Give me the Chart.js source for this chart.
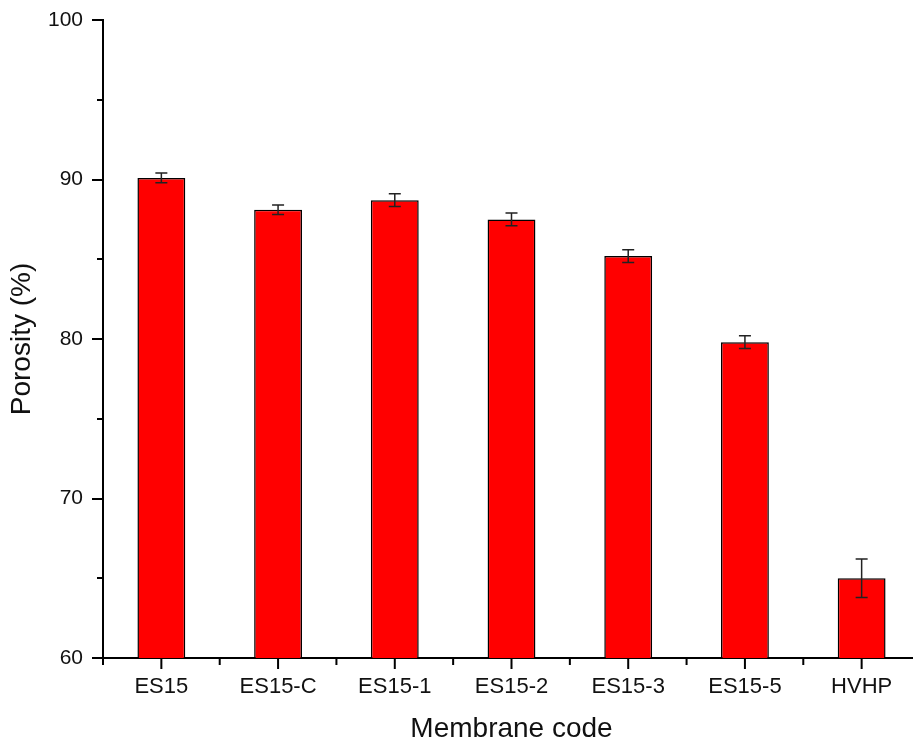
<!DOCTYPE html>
<html>
<head>
<meta charset="utf-8">
<script src="https://cdn.jsdelivr.net/npm/chart.js@4.4.1/dist/chart.umd.min.js"></script>
<style>
  html, body { margin: 0; padding: 0; background: #fff; overflow: hidden; }
  #wrap { width: 920px; height: 743px; }
</style>
</head>
<body>
<div id="wrap"><canvas id="c" width="920" height="743"></canvas></div>
<script>
// Membrane porosity with standard deviation
const membranes = ['ES15', 'ES15-C', 'ES15-1', 'ES15-2', 'ES15-3', 'ES15-5', 'HVHP'];
const porosity = [90.1, 88.1, 88.7, 87.5, 85.2, 79.8, 65.0];
const porosityErr = [0.3, 0.3, 0.4, 0.4, 0.4, 0.4, 1.2];
const yTicks = [60, 70, 80, 90, 100];

const FONT = "'Liberation Sans', Arial, sans-serif";

// Error bars with caps, placed through the y scale
const errorBars = {
  id: 'errorBars',
  afterDatasetsDraw(chart) {
    const ctx = chart.ctx;
    const y = chart.scales.y;
    const meta = chart.getDatasetMeta(0);
    ctx.save();
    ctx.strokeStyle = '#222';
    ctx.lineWidth = 1.5;
    meta.data.forEach((bar, i) => {
      const yt = y.getPixelForValue(porosity[i] + porosityErr[i]);
      const yb = y.getPixelForValue(porosity[i] - porosityErr[i]);
      const cap = 6;
      ctx.beginPath();
      ctx.moveTo(bar.x, yt); ctx.lineTo(bar.x, yb);
      ctx.moveTo(bar.x - cap, yt); ctx.lineTo(bar.x + cap, yt);
      ctx.moveTo(bar.x - cap, yb); ctx.lineTo(bar.x + cap, yb);
      ctx.stroke();
    });
    ctx.restore();
  }
};

// Outward major and minor tick marks on both axes
const tickMarks = {
  id: 'tickMarks',
  afterDraw(chart) {
    const ctx = chart.ctx;
    const x = chart.scales.x, y = chart.scales.y;
    const area = chart.chartArea;
    ctx.save();
    ctx.strokeStyle = '#000';
    ctx.lineWidth = 2;
    ctx.beginPath();
    for (let v = y.min; v <= y.max; v += 5) {
      const py = Math.round(y.getPixelForValue(v));
      const len = (v % 10 === 0) ? 11 : 6;
      ctx.moveTo(area.left, py); ctx.lineTo(area.left - len, py);
    }
    const n = membranes.length;
    for (let i = 0; i < n; i++) {
      const px = x.getPixelForValue(i);
      ctx.moveTo(px, area.bottom); ctx.lineTo(px, area.bottom + 11);
    }
    const step = (area.right - area.left) / n;
    for (let i = 0; i <= n; i++) {
      const px = area.left + i * step;
      ctx.moveTo(px, area.bottom); ctx.lineTo(px, area.bottom + 7);
    }
    ctx.stroke();
    ctx.restore();
  }
};

new Chart(document.getElementById('c'), {
  type: 'bar',
  data: {
    labels: membranes,
    datasets: [{
      data: porosity,
      backgroundColor: '#ff0000',
      borderColor: '#000',
      borderWidth: 1.5,
      borderSkipped: false,
      barPercentage: 0.41,
      categoryPercentage: 1.0
    }]
  },
  options: {
    responsive: false,
    animation: false,
    layout: { padding: { top: 20, right: 0, left: 0, bottom: 0 } },
    plugins: { legend: { display: false }, tooltip: { enabled: false } },
    scales: {
      x: {
        offset: true,
        grid: { display: true, drawOnChartArea: false, drawTicks: false },
        border: { color: '#000', width: 2 },
        ticks: { color: '#111', font: { family: FONT, size: 22 }, padding: 16 },
        title: {
          display: true, text: 'Membrane code', color: '#111',
          font: { family: FONT, size: 28, lineHeight: 1 },
          padding: { top: 0, bottom: 0 }
        },
        afterFit(s) { s.height = 85; s.paddingLeft = 0; s.paddingRight = 0; }
      },
      y: {
        min: 60, max: 100,
        grid: { display: true, drawOnChartArea: false, drawTicks: false },
        border: { color: '#000', width: 2 },
        ticks: {
          stepSize: 10, color: '#111', padding: 20,
          font: { family: FONT, size: 21 },
          callback: (v) => yTicks.includes(v) ? String(v) : ''
        },
        title: {
          display: true, text: 'Porosity (%)', color: '#111',
          font: { family: FONT, size: 28, lineHeight: 1 },
          padding: { top: 8, bottom: 0 }
        },
        afterFit(s) { s.width = 103; s.paddingTop = 0; s.paddingBottom = 0; }
      }
    }
  },
  plugins: [errorBars, tickMarks]
});
</script>
</body>
</html>
